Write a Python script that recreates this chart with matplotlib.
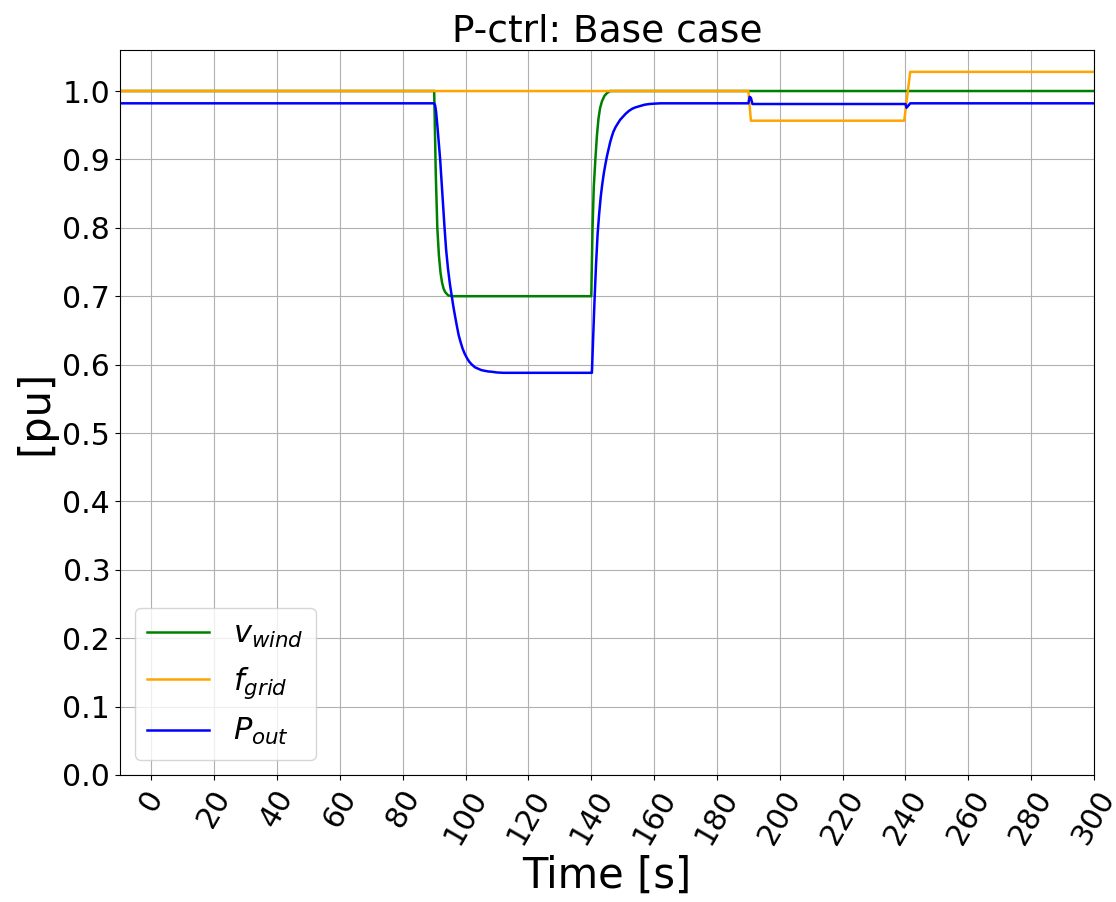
import numpy as np
import matplotlib
matplotlib.use("Agg")
import matplotlib.pyplot as plt

# wind speed step: 1.0 -> 0.7 at t=90 s, back to 1.0 at t=140 s
t_wind = [-10, 90, 90.5, 91.0, 91.5, 92.0, 92.5, 93.0, 93.5, 94.5, 96,
          140, 140.4, 140.8, 141.3, 141.8, 142.3, 142.8, 143.4, 144.2, 145, 146, 300]
v_wind = [1.0, 1.0, 0.88, 0.80, 0.76, 0.735, 0.72, 0.711, 0.706, 0.701, 0.70,
          0.70, 0.80, 0.86, 0.90, 0.935, 0.96, 0.975, 0.985, 0.993, 0.997, 1.0, 1.0]

# grid frequency steps at t=190 s and t=240 s
t_grid = [-10, 190, 190.8, 239.6, 241.5, 300]
f_grid = [1.0, 1.0, 0.9566, 0.9566, 1.028, 1.028]

# output power response
t_out = [-10, 90, 90.3, 90.6, 91.0, 91.4, 91.9, 92.6, 93.3, 93.8, 94.4, 95.0, 95.6,
         96.1, 96.6, 97.2, 97.8, 98.4, 99.0, 99.7, 100.5, 101.2, 102, 103, 104,
         105, 106, 107.2, 108.4, 110, 112,
         140, 140.2, 140.6, 141.0, 141.5, 142.0, 142.5, 143.0, 143.5, 144.0,
         144.5, 145.0, 145.5, 146.0, 146.5, 147.0, 147.7, 148.5, 149.2, 150,
         151, 152, 153, 154, 155.5, 157, 158.5, 160, 162, 165,
         190, 190.4, 190.8, 191.3, 240, 240.3, 240.8, 241.5, 300]
p_out = [0.982, 0.982, 0.979, 0.970, 0.950, 0.928, 0.90, 0.85, 0.80, 0.768, 0.74, 0.718, 0.70,
         0.685, 0.672, 0.657, 0.643, 0.633, 0.624, 0.616, 0.609, 0.604, 0.600, 0.596, 0.594,
         0.592, 0.591, 0.590, 0.5895, 0.5885, 0.588,
         0.588, 0.588, 0.64, 0.69, 0.745, 0.79, 0.82, 0.845, 0.864, 0.88,
         0.893, 0.905, 0.915, 0.925, 0.933, 0.94, 0.947, 0.953, 0.958, 0.962,
         0.967, 0.971, 0.974, 0.976, 0.978, 0.980, 0.981, 0.9815, 0.982, 0.982,
         0.982, 0.9915, 0.990, 0.981, 0.981, 0.9755, 0.978, 0.982, 0.982]

fig = plt.figure(figsize=(11.16, 9.02), dpi=100)
ax = fig.add_axes([0.1075, 0.1408, 0.8728, 0.8038])

ax.plot(t_wind, v_wind, color="green", lw=1.8, label=r"$v_{wind}$")
ax.plot(t_grid, f_grid, color="orange", lw=1.8, label=r"$f_{grid}$")
ax.plot(t_out, p_out, color="blue", lw=1.8, label=r"$P_{out}$")

ax.set_xlim(-10, 300)
ax.set_ylim(0, 1.06)
ax.set_xticks(np.arange(0, 301, 20))
ax.set_yticks(np.arange(0, 1.01, 0.1))
ax.tick_params(axis="both", labelsize=21.5)
ax.tick_params(axis="x", labelrotation=60)
ax.grid(True)

ax.set_title("P-ctrl: Base case", fontsize=27)
ax.set_xlabel("Time [s]", fontsize=30)
ax.set_ylabel("[pu]", fontsize=30)
ax.legend(loc="lower left", fontsize=22)

fig.savefig("out.png", dpi=100)
